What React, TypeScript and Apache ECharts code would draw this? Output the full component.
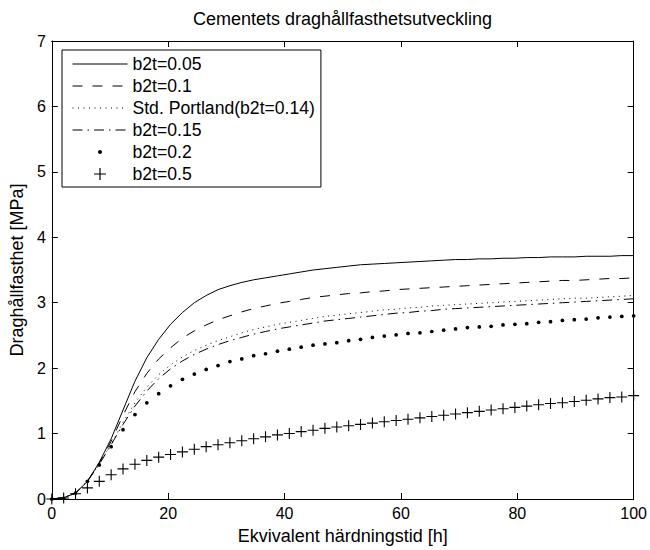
import React, { useEffect, useRef } from "react";
import * as echarts from "echarts";

const FONT = "'Liberation Sans', Arial, Helvetica, sans-serif";

const titleText = "Cementets draghållfasthetsutveckling";
const xName = "Ekvivalent härdningstid [h]";
const yName = "Draghållfasthet [MPa]";

const seriesNames = [
  "b2t=0.05",
  "b2t=0.1",
  "Std. Portland(b2t=0.14)",
  "b2t=0.15",
  "b2t=0.2",
  "b2t=0.5",
];

// time points (h)
const tHours = [
  0, 2.04, 4.08, 6.12, 8.16, 10.2, 12.24, 14.29, 16.33, 18.37,
  20.41, 22.45, 24.49, 26.53, 28.57, 30.61, 32.65, 34.69, 36.73, 38.78,
  40.82, 42.86, 44.9, 46.94, 48.98, 51.02, 53.06, 55.1, 57.14, 59.18,
  61.22, 63.27, 65.31, 67.35, 69.39, 71.43, 73.47, 75.51, 77.55, 79.59,
  81.63, 83.67, 85.71, 87.76, 89.8, 91.84, 93.88, 95.92, 97.96, 100,
];

const b005 = [
  0, 0.02, 0.09, 0.27, 0.56, 0.92, 1.36, 1.8, 2.16, 2.44,
  2.67, 2.85, 3.0, 3.11, 3.2, 3.26, 3.31, 3.35, 3.38, 3.41,
  3.44, 3.47, 3.5, 3.52, 3.54, 3.56, 3.58, 3.59, 3.6, 3.61,
  3.62, 3.63, 3.64, 3.65, 3.66, 3.66, 3.67, 3.67, 3.68, 3.68,
  3.69, 3.69, 3.7, 3.7, 3.7, 3.71, 3.71, 3.71, 3.72, 3.72,
];

const b01 = [
  0, 0.02, 0.09, 0.27, 0.55, 0.88, 1.28, 1.64, 1.92, 2.14,
  2.31, 2.46, 2.57, 2.66, 2.74, 2.8, 2.86, 2.91, 2.95, 2.99,
  3.02, 3.05, 3.08, 3.1, 3.12, 3.14, 3.15, 3.17, 3.18, 3.2,
  3.21, 3.22, 3.23, 3.24, 3.25, 3.26, 3.27, 3.28, 3.29, 3.3,
  3.31, 3.32, 3.33, 3.34, 3.34, 3.35, 3.36, 3.37, 3.37, 3.38,
];

const b014 = [
  0, 0.02, 0.09, 0.27, 0.53, 0.84, 1.17, 1.47, 1.71, 1.9,
  2.05, 2.17, 2.27, 2.35, 2.42, 2.48, 2.54, 2.59, 2.63, 2.67,
  2.7, 2.73, 2.76, 2.79, 2.81, 2.83, 2.85, 2.87, 2.89, 2.9,
  2.92, 2.93, 2.95, 2.96, 2.97, 2.98, 2.99, 3.0, 3.01, 3.02,
  3.03, 3.04, 3.05, 3.06, 3.07, 3.07, 3.08, 3.09, 3.1, 3.11,
];

const b015 = [
  0, 0.02, 0.09, 0.27, 0.53, 0.83, 1.14, 1.42, 1.65, 1.84,
  1.99, 2.11, 2.21, 2.29, 2.36, 2.42, 2.47, 2.52, 2.56, 2.6,
  2.63, 2.66, 2.69, 2.72, 2.74, 2.76, 2.78, 2.8, 2.82, 2.84,
  2.85, 2.87, 2.88, 2.9, 2.91, 2.92, 2.93, 2.94, 2.95, 2.96,
  2.97, 2.98, 2.99, 3.0, 3.01, 3.02, 3.03, 3.04, 3.05, 3.06,
];

const b02 = [
  0, 0.01, 0.09, 0.27, 0.52, 0.8, 1.06, 1.29, 1.47, 1.61,
  1.73, 1.83, 1.91, 1.98, 2.04, 2.1, 2.14, 2.19, 2.22, 2.26,
  2.29, 2.32, 2.35, 2.37, 2.39, 2.42, 2.44, 2.47, 2.49, 2.51,
  2.53, 2.54, 2.56, 2.58, 2.6, 2.62, 2.63, 2.64, 2.66, 2.67,
  2.68, 2.7, 2.71, 2.73, 2.74, 2.75, 2.77, 2.78, 2.79, 2.8,
];

const b05 = [
  0, 0.015, 0.08, 0.17, 0.27, 0.37, 0.46, 0.53, 0.59, 0.64,
  0.68, 0.72, 0.76, 0.8, 0.83, 0.86, 0.89, 0.92, 0.95, 0.98,
  1.0, 1.03, 1.05, 1.08, 1.1, 1.12, 1.14, 1.16, 1.18, 1.2,
  1.22, 1.24, 1.26, 1.28, 1.3, 1.32, 1.34, 1.36, 1.38, 1.4,
  1.42, 1.44, 1.46, 1.47, 1.49, 1.51, 1.53, 1.55, 1.56, 1.58,
];

const xTicks = { min: 0, max: 100, interval: 20 };
const yTicks = { min: 0, max: 7, interval: 1 };

const DOT = "path://M0,0M10,10M5,3.3A1.7,1.7,0,1,1,5,6.7A1.7,1.7,0,1,1,5,3.3Z";
const PLUS = "path://M4.5,0H5.5V4.5H10V5.5H5.5V10H4.5V5.5H0V4.5H4.5Z";

const DASH = [10, 10];
const DOTTED = [1, 4.5];
const DASHDOT = [10, 5, 1.5, 5];

function pairs(ys: number[]) {
  return tHours.map((t, i) => [t, ys[i]]);
}

export default function App() {
  const ref = useRef<HTMLDivElement>(null);
  useEffect(() => {
    document.body.style.margin = "0";
    if (!ref.current) return;
    const chart = echarts.init(ref.current, undefined, { renderer: "svg" });
    const black = "#000";
    const lineSeries = (name: string, ys: number[], type: any) => ({
      name,
      type: "line",
      data: pairs(ys),
      symbol: "none",
      smooth: false,
      clip: false,
      lineStyle: { color: black, width: 1, type },
      itemStyle: { color: black, opacity: 0 },
      emphasis: { disabled: true },
    });
    const markerSeries = (name: string, ys: number[], symbol: string, size: number) => ({
      name,
      type: "line",
      data: pairs(ys),
      symbol,
      symbolSize: size,
      showSymbol: true,
      clip: false,
      lineStyle: { color: black, width: 0, opacity: 0 },
      itemStyle: { color: black },
      emphasis: { disabled: true },
    });
    const axisCommon = {
      type: "value",
      axisLine: { show: true, onZero: false, lineStyle: { color: black, width: 1 } },
      axisTick: { show: true, inside: true, length: 6, lineStyle: { color: black, width: 1 } },
      splitLine: { show: false },
    };
    const nameStyle = { color: black, fontSize: 18, fontFamily: FONT };
    chart.setOption({
      animation: false,
      backgroundColor: "#fff",
      title: {
        text: titleText,
        left: 337.5,
        top: 5,
        textAlign: "center",
        textStyle: { color: black, fontSize: 18, fontWeight: "normal", fontFamily: FONT },
      },
      grid: { left: 49, right: 15, top: 41, bottom: 47, containLabel: false },
      xAxis: [
        {
          ...axisCommon,
          ...xTicks,
          position: "bottom",
          axisLabel: { color: black, fontSize: 16, fontFamily: FONT, margin: 6 },
          name: xName,
          nameLocation: "middle",
          nameGap: 28,
          nameTextStyle: nameStyle,
        },
        {
          ...axisCommon,
          ...xTicks,
          position: "top",
          axisLabel: { show: false },
        },
      ],
      yAxis: [
        {
          ...axisCommon,
          ...yTicks,
          position: "left",
          axisLabel: { color: black, fontSize: 16, fontFamily: FONT, margin: 6 },
          name: yName,
          nameLocation: "middle",
          nameGap: 25,
          nameTextStyle: nameStyle,
        },
        {
          ...axisCommon,
          ...yTicks,
          position: "right",
          axisLabel: { show: false },
        },
      ],
      legend: {
        orient: "vertical",
        left: 62,
        top: 50,
        padding: [3, 6, 2, 10],
        itemGap: 0,
        itemWidth: 55,
        itemHeight: 15,
        selectedMode: false,
        backgroundColor: "#fff",
        borderColor: black,
        borderWidth: 1,
        borderRadius: 0,
        textStyle: { color: black, fontSize: 17.6, lineHeight: 22, fontFamily: FONT },
        lineStyle: { width: 1 },
        data: [
          { name: seriesNames[0], itemStyle: { opacity: 0 }, lineStyle: { width: 1, color: black, type: "solid" } },
          { name: seriesNames[1], itemStyle: { opacity: 0 }, lineStyle: { width: 1, color: black, type: DASH } },
          { name: seriesNames[2], itemStyle: { opacity: 0 }, lineStyle: { width: 1, color: black, type: DOTTED } },
          { name: seriesNames[3], itemStyle: { opacity: 0 }, lineStyle: { width: 1, color: black, type: DASHDOT } },
          { name: seriesNames[4], itemStyle: { color: black, opacity: 1 }, lineStyle: { width: 0, opacity: 0 } },
          { name: seriesNames[5], itemStyle: { color: black, opacity: 1 }, lineStyle: { width: 0, opacity: 0 } },
        ],
      },
      series: [
        lineSeries(seriesNames[0], b005, "solid"),
        lineSeries(seriesNames[1], b01, DASH),
        lineSeries(seriesNames[2], b014, DOTTED),
        lineSeries(seriesNames[3], b015, DASHDOT),
        markerSeries(seriesNames[4], b02, DOT, 11),
        markerSeries(seriesNames[5], b05, PLUS, 11),
      ],
    });
    return () => chart.dispose();
  }, []);
  return (
    <div
      ref={ref}
      style={{ position: "absolute", left: 0, top: 0, width: 650, height: 550 }}
    />
  );
}
